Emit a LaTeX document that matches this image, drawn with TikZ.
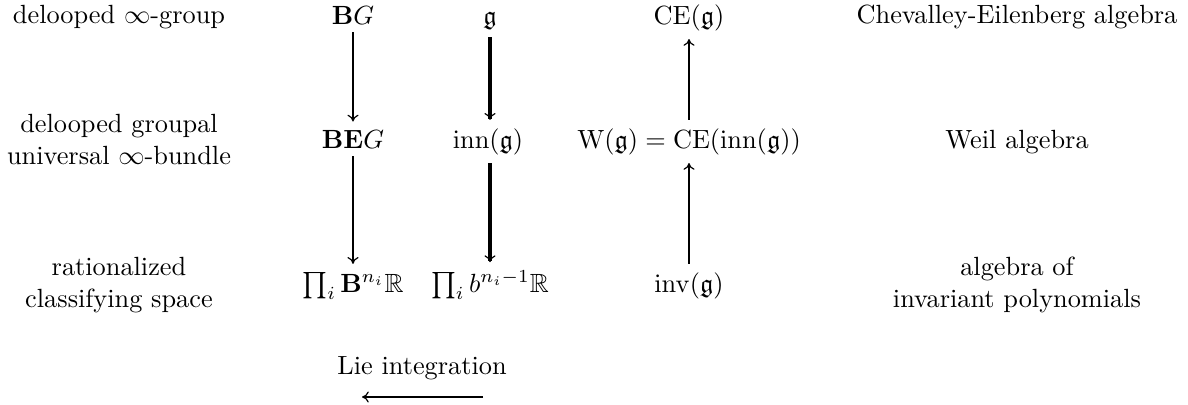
\documentclass[tikz,border=0pt]{standalone}
\usepackage{amsmath,amssymb}
\usetikzlibrary{arrows.meta}
\begin{document}
\begin{tikzpicture}[x=0.38pt,y=-0.38pt,
  obj/.style={anchor=base,inner sep=3pt},
  lbl/.style={anchor=base,align=center,inner sep=0pt},
  tip/.style={-{Computer Modern Rightarrow[length=2.6pt,width=4.2pt,line width=0.45pt]}},
  thinarr/.style={tip,line width=0.45pt},
  thickarr/.style={tip,line width=1.2pt},
  medarr/.style={tip,line width=0.8pt}]
\useasboundingbox (0,0) rectangle (1188,404);
% left labels (base = baseline of last line)
\node[lbl] (l1) at (119,23) {delooped $\infty$-group};
\node[lbl] (l2) at (119,164) {delooped groupal\\universal $\infty$-bundle};
\node[lbl] (l3) at (119,307) {rationalized\\classifying space};
% right labels
\node[lbl] (r1) at (1017,23) {Chevalley-Eilenberg algebra};
\node[lbl] (r2) at (1017,148) {Weil algebra};
\node[lbl] (r3) at (1017,307) {algebra of\\invariant polynomials};
% column 1
\node[obj] (BG) at (353,24) {$\mathbf{B}G$};
\node[obj] (BEG) at (353,148) {$\mathbf{B}\mathbf{E}G$};
\node[obj] (PB) at (353,292) {$\prod_i \mathbf{B}^{n_i}\mathbb{R}$};
% column 2
\node[obj] (g) at (490,24) {$\mathfrak{g}$};
\node[obj] (inn) at (488,148) {$\mathrm{inn}(\mathfrak{g})$};
\node[obj] (Pb) at (490,292) {$\prod_i b^{n_i-1}\mathbb{R}$};
% column 3
\node[obj] (CE) at (689,24) {$\mathrm{CE}(\mathfrak{g})$};
\node[obj] (W) at (689,148) {$\mathrm{W}(\mathfrak{g}) = \mathrm{CE}(\mathrm{inn}(\mathfrak{g}))$};
\node[obj] (inv) at (689,292) {$\mathrm{inv}(\mathfrak{g})$};
% arrows
\draw[thinarr] (BG.south) -- (BG.south |- BEG.north);
\draw[thinarr] (BEG.south) -- (BEG.south |- PB.north);
\draw[thickarr] (g.south) -- (g.south |- inn.north);
\draw[thickarr] (g.south |- inn.south) -- (g.south |- Pb.north);
\draw[medarr] (W.north) -- (W.north |- CE.south);
\draw[medarr] (inv.north) -- (inv.north |- W.south);
% Lie integration
\node[lbl] (lie) at (422,374) {Lie integration};
\coordinate (lieR) at (483,397);
\coordinate (lieL) at (362,397);
\draw[medarr] (lieR) -- (lieL);
\end{tikzpicture}
\end{document}
